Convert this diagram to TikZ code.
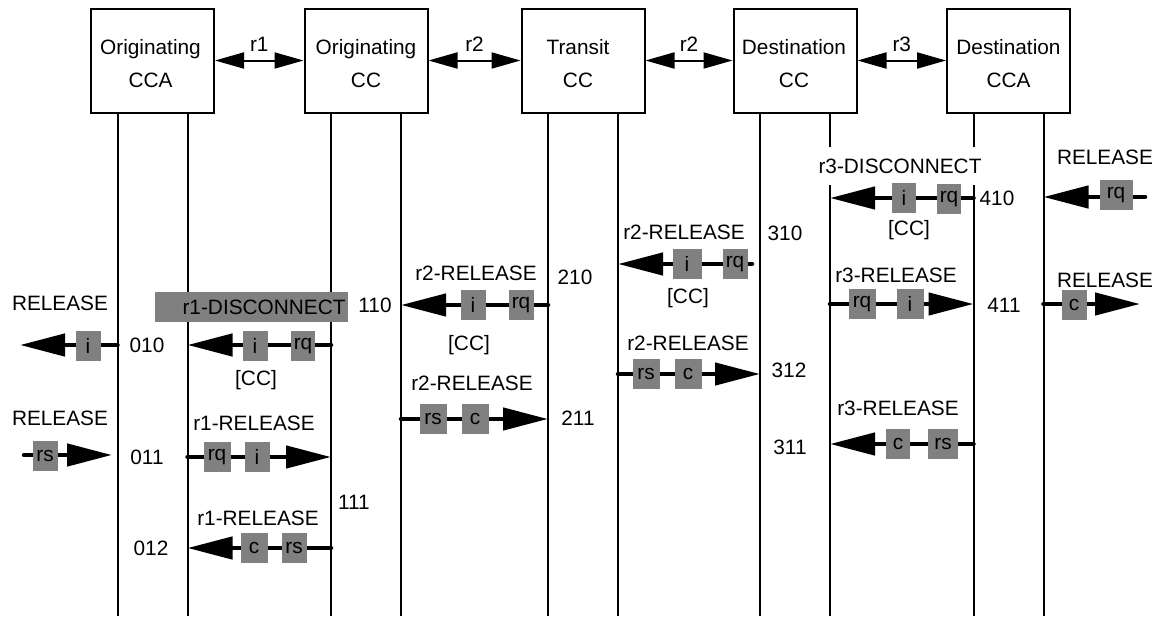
\documentclass[tikz,border=0pt]{standalone}
\usepackage{fontspec}
\setmainfont{Liberation Sans}
\usetikzlibrary{arrows.meta}
\usetikzlibrary{calc}
\definecolor{taggray}{RGB}{128,128,128}
\def\halfgap{35}
\def\boxw{123}
\def\boxh{104}

\tikzset{
  procbox/.style = {draw, line width = 2pt, minimum width = \boxw pt,
    minimum height = \boxh pt, inner sep = 0pt},
  boxtext/.style = {align = center, inner sep = 0pt},
  lifeline/.style = {line width = 2pt},
  link/.style = {line width = 2pt,
    {Triangle[length = 29pt, width = 16pt]}-{Triangle[length = 29pt, width = 16pt]}},
  msg/.style = {line width = 4.5pt, line cap = round,
    -{Triangle[length = 45pt, width = 22pt]}},
  tag/.style = {fill = taggray, minimum width = 25pt, minimum height = 30pt,
    inner sep = 0pt},
  lbl/.style = {inner sep = 0pt}
}

\begin{document}
\begin{tikzpicture} [x = 1pt, y = -1pt, font = \fontsize{20.8}{33}\selectfont]
    \useasboundingbox (0, 0) rectangle (1165, 616);

    % the five blocks
    \node[procbox] (occa) at (152.5, 60.5) {};
    \node[procbox] (occ)  at (366, 60.5)   {};
    \node[procbox] (tcc)  at (583, 60.5)   {};
    \node[procbox] (dcc)  at (795, 60.5)   {};
    \node[procbox] (dcca) at (1008.5, 60.5) {};
    \node[boxtext] (occa-t) at ($(occa) + (-2, 3)$) {Originating\\CCA};
    \node[boxtext] (occ-t)  at ($(occ) + (0, 3)$)   {Originating\\CC};
    \node[boxtext] (tcc-t)  at ($(tcc) + (-5, 3)$)  {Transit\\CC};
    \node[boxtext] (dcc-t)  at ($(dcc) + (-1, 3)$)  {Destination\\CC};
    \node[boxtext] (dcca-t) at ($(dcca) + (0, 3)$)  {Destination\\CCA};

    \foreach \b in {occa, occ, tcc, dcc, dcca} {
      \coordinate (\b-l) at ($(\b.south) + (-\halfgap, 0)$);
      \coordinate (\b-r) at ($(\b.south) + (\halfgap, 0)$);
      \draw[lifeline] (\b-l) -- (\b-l |- 0, 616);
      \draw[lifeline] (\b-r) -- (\b-r |- 0, 616);
    }

    % reference points between blocks
    \draw[link] (occa.east) -- node[above = 8pt, lbl] (r1) {r1} (occ.west);
    \draw[link] (occ.east)  -- node[above = 8pt, lbl] (r2a) {r2} (tcc.west);
    \draw[link] (tcc.east)  -- node[above = 8pt, lbl] (r2b) {r2} (dcc.west);
    \draw[link] (dcc.east)  -- node[above = 8pt, lbl] (r3) {r3} (dcca.west);

    % free ends
    \coordinate (relout1) at (20, 345);
    \coordinate (relin1) at (24, 455);
    \coordinate (relend1) at (112, 455);
    \coordinate (r2src) at (752, 264);
    \coordinate (relin2) at (1145, 197);
    \coordinate (relout2) at (1140, 304);

    % originating CCA
    \node[lbl] (rel010) at (60, 303) {RELEASE};
    \draw[msg] (occa-l |- 0, 345) -- (relout1);
    \node[tag] (m1i) at (88, 346) {i};
    \node[lbl] (s010) at (147, 345) {010};

    \node[lbl] (rel011) at (60, 418) {RELEASE};
    \draw[msg] (relin1) -- (relend1);
    \node[tag] (m3rs) at (45, 456) {rs};
    \node[lbl] (s011) at (147, 457) {011};

    \node[lbl] (s012) at (151, 548) {012};

    % originating CC
    \node[fill = taggray, inner xsep = 2.5pt, text width = 188pt, align = right,
      minimum height = 30pt] (r1disc) at (251.5, 307) {r1-DISCONNECT};
    \draw[msg] (occ-l |- 0, 345) -- (occa-r |- 0, 345);
    \node[tag] (m2i) at (255, 346) {i};
    \node[tag, minimum width = 24pt] (m2rq) at (303, 346) {rq};
    \node[lbl] (cc1) at (256, 380) {[CC]};
    \node[lbl] (s110) at (375, 305) {110};

    \node[lbl] (r1rel1) at (254, 423) {r1-RELEASE};
    \draw[msg] (occa-r |- 0, 457) -- (occ-l |- 0, 457);
    \node[tag, minimum width = 27pt] (m4rq) at (217, 457) {rq};
    \node[tag] (m4i) at (257, 457) {i};

    \node[lbl] (s111) at (354, 502) {111};

    \node[lbl] (r1rel2) at (258, 518) {r1-RELEASE};
    \draw[msg] (occ-l |- 0, 548) -- (occa-r |- 0, 548);
    \node[tag, minimum width = 27pt] (m6c) at (254, 548) {c};
    \node[tag] (m6rs) at (294, 548) {rs};

    % transit CC
    \node[lbl] (r2rel1) at (476, 273) {r2-RELEASE};
    \draw[msg] (tcc-l |- 0, 305) -- (occ-r |- 0, 305);
    \node[tag] (m7i) at (473, 305) {i};
    \node[tag] (m7rq) at (521, 305) {rq};
    \node[lbl] (cc2) at (469, 345) {[CC]};
    \node[lbl] (s210) at (575, 277) {210};

    \node[lbl] (r2rel2) at (472, 383) {r2-RELEASE};
    \draw[msg] (occ-r |- 0, 419) -- (tcc-l |- 0, 419);
    \node[tag, minimum width = 27pt] (m8rs) at (433, 419) {rs};
    \node[tag, minimum width = 27pt] (m8c) at (475, 419) {c};
    \node[lbl] (s211) at (578, 418) {211};

    % destination CC
    \node[lbl] (r2rel3) at (684, 232) {r2-RELEASE};
    \draw[msg] (r2src) -- (tcc-r |- r2src);
    \node[tag, minimum width = 29pt] (m9i) at (687, 264) {i};
    \node[tag] (m9rq) at (735, 264) {rq};
    \node[lbl] (cc3) at (688, 298) {[CC]};
    \node[lbl] (s310) at (785, 233) {310};

    \node[lbl] (r2rel4) at (688, 343) {r2-RELEASE};
    \draw[msg] (tcc-r |- 0, 374) -- (dcc-l |- 0, 374);
    \node[tag, minimum width = 27pt] (m10rs) at (646, 374) {rs};
    \node[tag, minimum width = 27pt] (m10c) at (688, 374) {c};
    \node[lbl] (s312) at (789, 370) {312};
    \node[lbl] (s311) at (790, 447) {311};

    % destination CCA
    \node[lbl, fill = white, minimum height = 38pt] (r3disc) at (900, 166)
      {r3-DISCONNECT};
    \draw[msg] (dcca-l |- 0, 198) -- (dcc-r |- 0, 198);
    \node[tag, minimum width = 24pt] (m11i) at (904, 198) {i};
    \node[tag, minimum width = 24pt] (m11rq) at (949, 199) {rq};
    \node[lbl] (cc4) at (909, 230) {[CC]};
    \node[lbl] (s410) at (997, 198) {410};

    \node[lbl] (rel410) at (1105, 157) {RELEASE};
    \draw[msg] (relin2) -- (dcca-r |- relin2);
    \node[tag, minimum width = 33pt] (m12rq) at (1116, 195) {rq};

    \node[lbl] (r3rel1) at (896, 275) {r3-RELEASE};
    \draw[msg] (dcc-r |- 0, 304) -- (dcca-l |- 0, 304);
    \node[tag, minimum width = 27pt] (m13rq) at (862, 304) {rq};
    \node[tag, minimum width = 27pt] (m13i) at (910, 304) {i};
    \node[lbl] (s411) at (1004, 305) {411};

    \node[lbl] (rel411) at (1105, 280) {RELEASE};
    \draw[msg] (dcca-r |- relout2) -- (relout2);
    \node[tag] (m14c) at (1074, 305) {c};

    \node[lbl] (r3rel2) at (898, 408) {r3-RELEASE};
    \draw[msg] (dcca-l |- 0, 444) -- (dcc-r |- 0, 444);
    \node[tag, minimum width = 24pt] (m15c) at (898, 444) {c};
    \node[tag, minimum width = 30pt] (m15rs) at (943, 444) {rs};
  \end{tikzpicture}
\end{document}
